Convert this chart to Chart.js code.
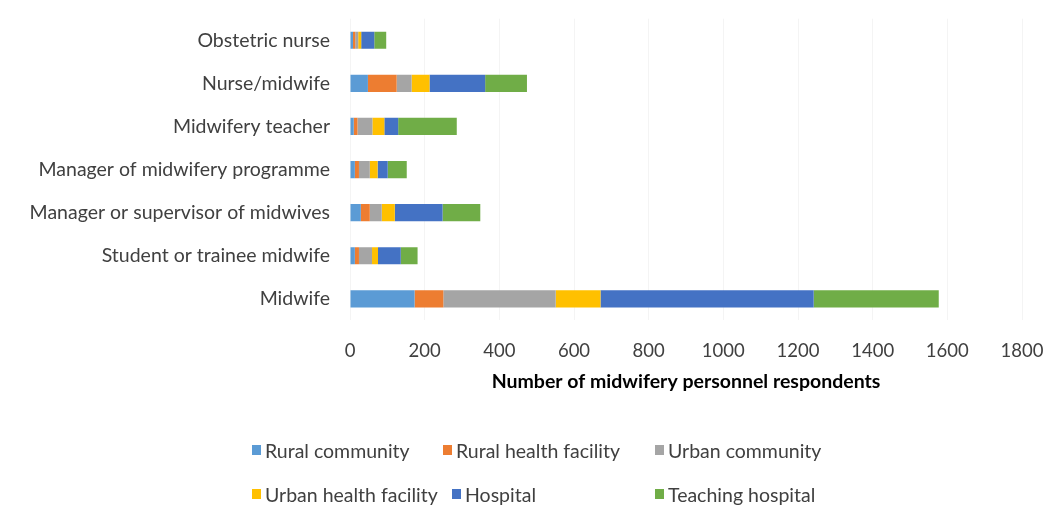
<!DOCTYPE html>
<html>
<head>
<meta charset="utf-8">
<script src="https://cdn.jsdelivr.net/npm/chart.js@4"></script>
<style>
  html, body { margin: 0; padding: 0; background: #fff; }
  #wrap { position: relative; width: 1059px; height: 522px; overflow: hidden; }
  #box { position: absolute; left: 0; top: -5px; width: 1059px; height: 405px; }
  #legend {
    position: absolute; left: 0; top: 0; width: 1059px; height: 522px;
    font-family: Lato, "Open Sans", sans-serif; font-size: 19.5px; color: #404040;
  }
  #legend div { position: absolute; display: flex; align-items: center; white-space: nowrap; height: 24px; }
  #legend span.sw { display: inline-block; width: 9px; height: 10px; margin-right: 4px; }
</style>
</head>
<body>
<div id="wrap">
  <div id="box"><canvas id="chart"></canvas></div>
  <div id="legend"></div>
</div>
<script>
// Data
const categories = ['Obstetric nurse', 'Nurse/midwife', 'Midwifery teacher', 'Manager of midwifery programme',
    'Manager or supervisor of midwives', 'Student or trainee midwife', 'Midwife'];
const seriesNames = ['Rural community', 'Rural health facility', 'Urban community',
    'Urban health facility', 'Hospital', 'Teaching hospital'];
const ruralCommunity = [8, 48, 10, 13, 29, 13, 173];
const ruralFacility = [6, 77, 10, 11, 24, 11, 77];
const urbanCommunity = [8, 40, 40, 29, 32, 35, 301];
const urbanFacility = [8, 48, 32, 21, 35, 16, 120];
const hospital = [35, 149, 37, 27, 128, 61, 571];
const teachingHospital = [32, 112, 157, 51, 101, 45, 335];
const xTicks = [0, 200, 400, 600, 800, 1000, 1200, 1400, 1600, 1800];

const colors = ['#5b9bd5', '#ed7d31', '#a5a5a5', '#ffc000', '#4472c4', '#70ad47'];
const values = [ruralCommunity, ruralFacility, urbanCommunity, urbanFacility, hospital, teachingHospital];

const FONT = 'Lato, "Open Sans", sans-serif';

const chart = new Chart(document.getElementById('chart'), {
    type: 'bar',
    data: {
        labels: categories,
        datasets: seriesNames.map((name, i) => ({
            label: name,
            data: values[i],
            backgroundColor: colors[i],
            borderWidth: 0,
            categoryPercentage: 1,
            barPercentage: 0.4
        }))
    },
    options: {
        indexAxis: 'y',
        responsive: true,
        maintainAspectRatio: false,
        animation: false,
        layout: { padding: { top: 6, right: 37, left: 0, bottom: 7 } },
        plugins: { legend: { display: false }, tooltip: { enabled: false } },
        scales: {
            x: {
                stacked: true,
                min: 0, max: 1800,
                afterBuildTicks: s => { s.ticks = xTicks.map(v => ({ value: v })); },
                afterFit: s => { s.paddingRight = 0; },
                grid: { color: '#f4f4f4', drawTicks: false },
                border: { display: false },
                ticks: {
                    color: '#404040', padding: 20, font: { family: FONT, size: 18.5 },
                    callback: v => String(v)
                },
                title: {
                    display: true,
                    text: 'Number of midwifery personnel respondents',
                    color: '#000',
                    padding: { top: -13, bottom: 0 },
                    font: { family: FONT, size: 19.5, weight: 'bold' }
                }
            },
            y: {
                stacked: true,
                grid: { display: false },
                border: { display: false },
                afterFit: s => { s.width = 350; },
                ticks: { color: '#404040', padding: 12, font: { family: FONT, size: 19.5 } }
            }
        }
    }
});

// Legend in two rows, placed like the original
const legendLeft = [252, 443, 655, 252, 452, 655];
const legendTop = [438, 438, 438, 482, 482, 482];
const legend = document.getElementById('legend');
seriesNames.forEach((name, i) => {
    legend.insertAdjacentHTML('beforeend',
        `<div style="left:${legendLeft[i]}px;top:${legendTop[i]}px">` +
        `<span class="sw" style="background:${colors[i]}"></span>${name}</div>`);
});
</script>
</body>
</html>
